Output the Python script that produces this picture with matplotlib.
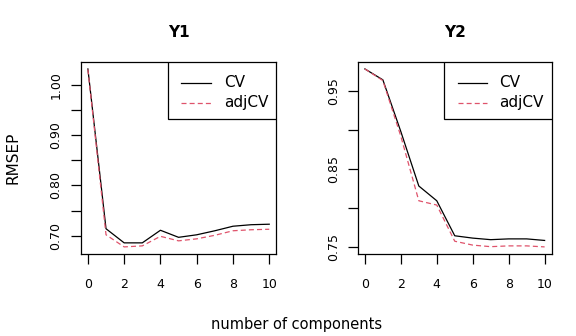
import matplotlib
matplotlib.use("Agg")
import matplotlib.pyplot as plt
from matplotlib.patches import Rectangle

ncomp = list(range(11))

y1_cv = [1.031, 0.714, 0.686, 0.686, 0.711, 0.697, 0.702, 0.710, 0.719, 0.722, 0.723]
y1_adjcv = [1.030, 0.702, 0.678, 0.680, 0.699, 0.690, 0.694, 0.701, 0.710, 0.712, 0.713]

y2_cv = [0.9785, 0.9645, 0.898, 0.828, 0.809, 0.764, 0.761, 0.759, 0.760, 0.760, 0.758]
y2_adjcv = [0.9785, 0.9636, 0.892, 0.809, 0.8035, 0.757, 0.752, 0.750, 0.751, 0.751, 0.7497]

y1_ticks = [0.70, 0.75, 0.80, 0.85, 0.90, 0.95, 1.00]
y1_labels = ["0.70", "", "0.80", "", "0.90", "", "1.00"]
y2_ticks = [0.75, 0.80, 0.85, 0.90, 0.95]
y2_labels = ["0.75", "", "0.85", "", "0.95"]
x_ticks = [0, 2, 4, 6, 8, 10]
legend_names = ["CV", "adjCV"]

red = "#DF536B"
lw = 0.9

fig = plt.figure(figsize=(5.76, 3.36), dpi=100)
ax1 = fig.add_axes([0.140, 0.244, 0.340, 0.572])
ax2 = fig.add_axes([0.621, 0.244, 0.337, 0.572])

panels = [
    (ax1, "Y1", y1_cv, y1_adjcv, y1_ticks, y1_labels),
    (ax2, "Y2", y2_cv, y2_adjcv, y2_ticks, y2_labels),
]

styles = [dict(color="black", ls="-"), dict(color=red, ls=(0, (4, 2.5)))]

for ax, title, cv, adj, yt, yl in panels:
    ax.plot(ncomp, cv, lw=lw, **styles[0])
    ax.plot(ncomp, adj, lw=lw, **styles[1])
    lo = min(cv + adj)
    hi = max(cv + adj)
    pad = (hi - lo) * 0.04
    ax.set_ylim(lo - pad, hi + pad)
    ax.set_xlim(-0.4, 10.4)
    ax.set_xticks(x_ticks)
    ax.set_yticks(yt)
    ax.set_yticklabels(yl, rotation=90, va="center")
    ax.tick_params(direction="out", length=7, width=lw, labelsize=9, pad=6)
    ax.tick_params(axis="x", pad=10)
    for s in ax.spines.values():
        s.set_linewidth(lw)
    ax.set_title(title, fontsize=11, fontweight="bold", pad=18)

    # R-style legend box in the top right corner
    ax.add_patch(Rectangle((0.444, 0.700), 0.556, 0.300, transform=ax.transAxes,
                           facecolor="white", edgecolor="black", lw=lw, zorder=5))
    for name, st, yy in zip(legend_names, styles, [0.891, 0.787]):
        ax.plot([0.515, 0.665], [yy, yy], transform=ax.transAxes, lw=lw,
                zorder=6, clip_on=False, **st)
        ax.text(0.731, yy, name, transform=ax.transAxes, fontsize=11,
                va="center", ha="left", zorder=6)

fig.text(0.022, 0.53, "RMSEP", rotation=90, ha="center", va="center", fontsize=11)
fig.text(0.515, 0.033, "number of components", ha="center", va="center", fontsize=10.5)

fig.savefig("out.png", dpi=100)
